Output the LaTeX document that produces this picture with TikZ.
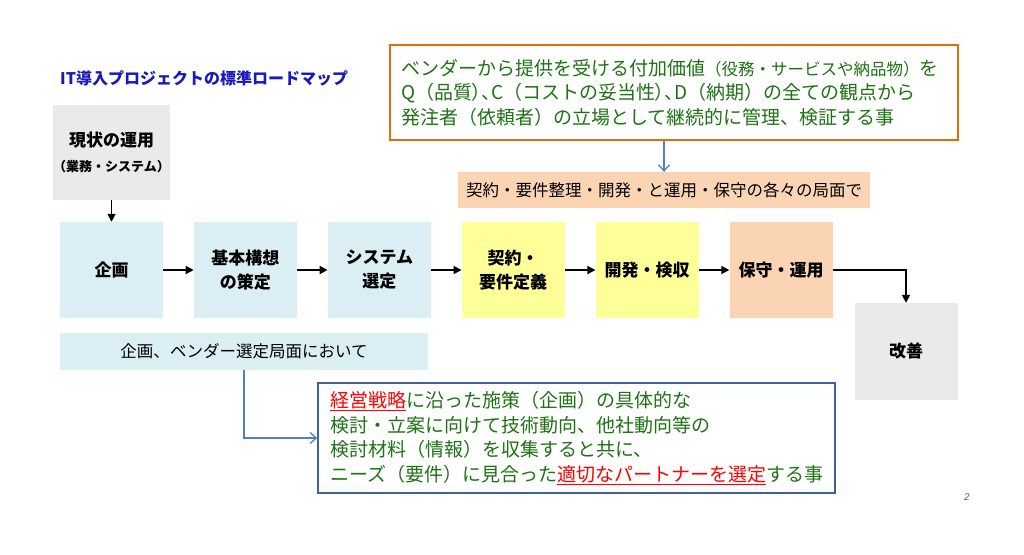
\documentclass[tikz,border=0pt]{standalone}
\usepackage{fontspec}
\setmainfont{Noto Sans CJK JP}
\newfontfamily\paltfont{Noto Sans CJK JP}[RawFeature=+palt]
\newfontfamily\numfont{Liberation Sans}
\usetikzlibrary{positioning,chains,arrows.meta}

\definecolor{lblue}{RGB}{218,238,243}
\definecolor{lyellow}{RGB}{255,255,153}
\definecolor{lpeach}{RGB}{251,212,180}
\definecolor{lgray}{RGB}{234,234,234}
\definecolor{borange}{RGB}{228,108,10}
\definecolor{tgreen}{RGB}{30,115,20}
\definecolor{bblue}{RGB}{64,96,160}
\definecolor{ablue}{RGB}{79,129,189}
\definecolor{tblue}{RGB}{25,25,190}

\newcommand\redul[1]{\textcolor{red}{\underline{#1}}}

\begin{document}
\begin{tikzpicture}[x=1pt,y=-1pt,
  every node/.style={inner sep=0pt},
  phase/.style={minimum width=103pt,minimum height=96pt,align=center,font=\fontsize{17}{24}\selectfont\bfseries},
  strip/.style={font=\fontsize{16.5}{20}\selectfont},
  note/.style={align=left,inner xsep=11pt,font=\fontsize{19}{24.5}\selectfont,text=tgreen},
  flow/.style={-{Triangle[length=8pt,width=8pt]},line width=1.6pt},
  link/.style={-{Straight Barb[length=6pt,width=11pt]},ablue,line width=1.3pt}
]
\useasboundingbox[fill=white] (0,0) rectangle (1024,554);

% title
\node[anchor=west,text=tblue,font=\fontsize{16}{18}\selectfont\bfseries] (title) at (60,78) {IT導入プロジェクトの標準ロードマップ};

% the phases
\begin{scope}[shift={(111.5,270)},start chain=going right,node distance=30.5pt]
  \node[phase,fill=lblue,on chain] (kikaku) {企画};
  \node[phase,fill=lblue,on chain] (kousou) {基本構想\\の策定};
  \node[phase,fill=lblue,on chain] (sentei) {システム\\選定};
  \node[phase,fill=lyellow,on chain] (keiyaku) {契約・\\要件定義};
  \node[phase,fill=lyellow,on chain] (kaihatsu) {開発・検収};
  \node[phase,fill=lpeach,on chain] (hoshu) {保守・運用};
\end{scope}

\node[phase,fill=lgray,minimum height=95pt] (genjou) at (111.5,152.5) {現状の運用\\[1pt]{\fontsize{13}{16}\selectfont（業務・システム）}};
\node[phase,fill=lgray,minimum height=97pt] (kaizen) at (906,351.5) {改善};

% the strips
\node[strip,fill=lblue,minimum width=368pt,minimum height=37pt] (kikakustrip) at (244,351.5) {企画、ベンダー選定局面において};
\node[strip,fill=lpeach,minimum width=412pt,minimum height=36pt] (kakustrip) at (664,190) {契約・要件整理・開発・と運用・保守の各々の局面で};

% the notes
\node[note,draw=borange,line width=2.3pt,text width=546pt,minimum height=95pt] (vendor) at (674,92.5)
  {ベンダーから提供を受ける付加価値{\fontsize{16.5}{24.5}\selectfont（役務・サービスや納品物）}を\\
   Q（品質{\paltfont ）、}C（コストの妥当性{\paltfont ）、}D（納期）の全ての観点から\\
   発注者（依頼者）の立場として継続的に管理、検証する事};
\node[note,draw=bblue,line width=1.8pt,inner xsep=12pt,text width=493pt,minimum height=110pt] (partner) at (576.5,438)
  {\redul{経営戦略}に沿った施策（企画）の具体的な\\
   検討・立案に向けて技術動向、他社動向等の\\
   検討材料（情報）を収集すると共に、\\
   ニーズ（要件）に見合った\redul{適切なパートナーを選定}する事};

% the arrows
\draw[flow] (genjou) -- (kikaku);
\foreach \a/\b in {kikaku/kousou,kousou/sentei,sentei/keiyaku,keiyaku/kaihatsu,kaihatsu/hoshu}
  \draw[flow] (\a) -- (\b);
\draw[flow] (hoshu.east) -| (kaizen.north);

\draw[link] (kikakustrip.south) |- (partner.west);
\draw[link] (kakustrip.north |- vendor.south) -- (kakustrip.north);

% page number
\node[text={rgb,255:red,90;green,100;blue,125},font=\numfont\itshape\fontsize{10}{12}\selectfont] (pagenum) at (967,497) {2};

\end{tikzpicture}
\end{document}
